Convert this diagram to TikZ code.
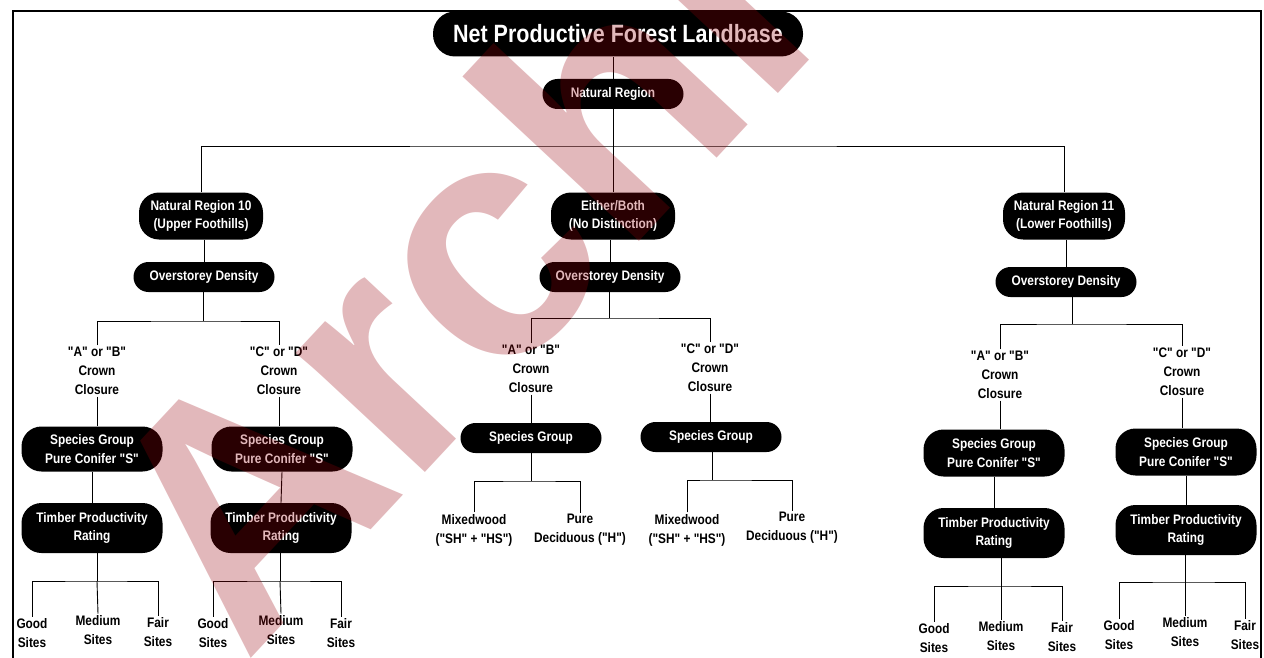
\documentclass[tikz,border=0pt]{standalone}
\usepackage{fontspec}
\newfontfamily\lf{Liberation Sans}[FakeStretch=0.86]
\newfontfamily\wmf{Liberation Sans}
\definecolor{wmc}{RGB}{150,0,10}
\begin{document}
\begin{tikzpicture}[x=1pt,y=-1pt,
  blk/.style={fill=black, text=white, font=\lf\bfseries\fontsize{13.8}{18.5}\selectfont,
    align=center, inner sep=0pt, minimum width=141pt, minimum height=30pt, rounded corners=15pt},
  blktwo/.style={blk, minimum height=47pt, rounded corners=20pt},
  lbl/.style={font=\lf\bfseries\fontsize{13.8}{19}\selectfont, align=center, inner sep=1.5pt, text=black},
  cn/.style={line width=0.9pt, black}]
\useasboundingbox (0,0) rectangle (1264,658);
% frame
\draw[line width=2pt] (13,658) -- (13,11) -- (1261,11) -- (1261,658);
% top levels
\node[blk, minimum width=370pt, minimum height=45pt, rounded corners=22pt,
  font=\lf\bfseries\fontsize{25}{28}\selectfont] (top) at (618,34) {Net Productive Forest Landbase};
\node[blk] (nat) at (613,94) {Natural Region};
\node[blktwo, minimum width=124pt] (nr10) at (201,216) {Natural Region 10\\(Upper Foothills)};
\node[blktwo, minimum width=124pt] (eb) at (613,216) {Either/Both\\(No Distinction)};
\node[blktwo, minimum width=122pt] (nr11) at (1064,216) {Natural Region 11\\(Lower Foothills)};
\node[blk] (od1) at (204,277) {Overstorey Density};
\node[blk] (od2) at (610,277) {Overstorey Density};
\node[blk] (od3) at (1066,282) {Overstorey Density};
% crown closure labels
\node[lbl] (ab1) at (97,371) {"A" or "B"\\Crown\\Closure};
\node[lbl] (cd1) at (279,371) {"C" or "D"\\Crown\\Closure};
\node[lbl] (ab2) at (531,369) {"A" or "B"\\Crown\\Closure};
\node[lbl] (cd2) at (710,368) {"C" or "D"\\Crown\\Closure};
\node[lbl] (ab3) at (1000,375) {"A" or "B"\\Crown\\Closure};
\node[lbl] (cd3) at (1182,372) {"C" or "D"\\Crown\\Closure};
% species groups
\node[blktwo, minimum height=45pt] (sg1) at (92,449) {Species Group\\Pure Conifer "S"};
\node[blktwo, minimum height=45pt] (sg2) at (282,449) {Species Group\\Pure Conifer "S"};
\node[blk] (sg3) at (531,438) {Species Group};
\node[blk] (sg4) at (711,437) {Species Group};
\node[blktwo] (sg5) at (994,453) {Species Group\\Pure Conifer "S"};
\node[blktwo] (sg6) at (1186,452) {Species Group\\Pure Conifer "S"};
% timber productivity
\node[blktwo, minimum height=50pt] (tp1) at (92,528) {Timber Productivity\\Rating};
\node[blktwo, minimum height=50pt] (tp2) at (281,528) {Timber Productivity\\Rating};
\node[blktwo, minimum height=50pt] (tp5) at (994,533) {Timber Productivity\\Rating};
\node[blktwo, minimum height=50pt] (tp6) at (1186,530) {Timber Productivity\\Rating};
% leaves
\node[lbl] (g1) at (32,633) {Good\\Sites};
\node[lbl] (m1) at (98,630) {Medium\\Sites};
\node[lbl] (f1) at (158,632) {Fair\\Sites};
\node[lbl] (g2) at (213,633) {Good\\Sites};
\node[lbl] (m2) at (281,630) {Medium\\Sites};
\node[lbl] (f2) at (341,633) {Fair\\Sites};
\node[lbl] (mx3) at (474,530) {Mixedwood\\("SH" + "HS")};
\node[lbl] (pd3) at (580,530) {Pure\\Deciduous ("H")};
\node[lbl] (mx4) at (687,530) {Mixedwood\\("SH" + "HS")};
\node[lbl] (pd4) at (792,528) {Pure\\Deciduous ("H")};
\node[lbl] (g5) at (934,638) {Good\\Sites};
\node[lbl] (m5) at (1001,636) {Medium\\Sites};
\node[lbl] (f5) at (1062,637) {Fair\\Sites};
\node[lbl] (g6) at (1119,635) {Good\\Sites};
\node[lbl] (m6) at (1185,632) {Medium\\Sites};
\node[lbl] (f6) at (1245,635) {Fair\\Sites};
% bus coordinates
\coordinate (mb) at (614,146);
\coordinate (b1) at (203,321);
\coordinate (b2) at (609,318);
\coordinate (b3) at (1072,324);
\coordinate (s1) at (97,581);
\coordinate (s2) at (280,581);
\coordinate (s3) at (531,481);
\coordinate (s4) at (712,480);
\coordinate (s5) at (1001,586);
\coordinate (s6) at (1185,582);
% connectors
\draw[cn] (nat.north) -- (nat.north |- top.south);
\draw[cn] (nat.south) -- (eb.north);
\draw[cn] (nr10.north) |- (mb) -| (nr11.north);
\draw[cn] (od1.north) -- (od1.north |- nr10.south);
\draw[cn] (od2.north) -- (od2.north |- eb.south);
\draw[cn] (od3.north) -- (od3.north |- nr11.south);
\draw[cn] (od1.south -| b1) -- (b1);
\draw[cn] (ab1.north) |- (b1) -| (cd1.north);
\draw[cn] (od2.south -| b2) -- (b2);
\draw[cn] (ab2.north) |- (b2) -| (cd2.north);
\draw[cn] (od3.south -| b3) -- (b3);
\draw[cn] (ab3.north) |- (b3) -| (cd3.north);
\draw[cn] (ab1.south) -- (ab1.south |- sg1.north);
\draw[cn] (cd1.south) -- (cd1.south |- sg2.north);
\draw[cn] (ab2.south) -- (ab2.south |- sg3.north);
\draw[cn] (cd2.south) -- (cd2.south |- sg4.north);
\draw[cn] (ab3.south) -- (ab3.south |- sg5.north);
\draw[cn] (cd3.south) -- (cd3.south |- sg6.north);
\draw[cn] (sg1.south) -- (tp1.north);
\draw[cn] (sg2.south) -- (tp2.north);
\draw[cn] (sg5.south) -- (tp5.north);
\draw[cn] (sg6.south) -- (tp6.north);
\draw[cn] (tp1.south -| s1) -- (s1);
\draw[cn] (g1.north) |- (s1) -| (f1.north);
\draw[cn] (s1) -- (m1.north);
\draw[cn] (tp2.south -| s2) -- (s2);
\draw[cn] (g2.north) |- (s2) -| (f2.north);
\draw[cn] (s2) -- (m2.north);
\draw[cn] (sg3.south -| s3) -- (s3);
\draw[cn] (mx3.north) |- (s3) -| (pd3.north);
\draw[cn] (sg4.south -| s4) -- (s4);
\draw[cn] (mx4.north) |- (s4) -| (pd4.north);
\draw[cn] (tp5.south -| s5) -- (s5);
\draw[cn] (g5.north) |- (s5) -| (f5.north);
\draw[cn] (s5) -- (m5.north);
\draw[cn] (tp6.south -| s6) -- (s6);
\draw[cn] (g6.north) |- (s6) -| (f6.north);
\draw[cn] (s6) -- (m6.north);
% watermark
\begin{scope}
\clip (0,0) rectangle (1264,658);
\node[rotate=47, anchor=base west, text=wmc, text opacity=0.28, inner sep=0pt,
  font=\wmf\bfseries\fontsize{333}{333}\selectfont] (wm) at (245,665) {Archive};
\end{scope}
\end{tikzpicture}
\end{document}
